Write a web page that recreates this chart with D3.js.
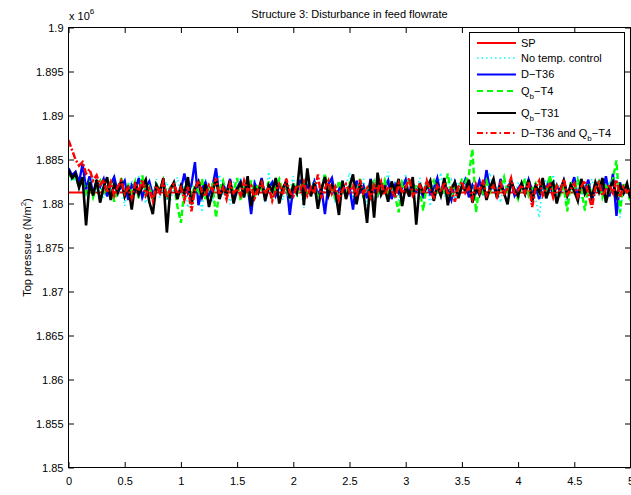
<!DOCTYPE html>
<html>
<head>
<meta charset="utf-8">
<script src="https://cdn.jsdelivr.net/npm/d3@7"></script>
<style>
  html, body { margin: 0; padding: 0; background: #fff; }
  svg { display: block; font-family: "Liberation Sans", Arial, Helvetica, sans-serif; }
</style>
</head>
<body>
<div id="chart"></div>
<script>
// ---------------- DATA (values in units of 10^6 N/m^2) ----------------
const tStart = 0, tEnd = 5;
const xTicks = [0, 0.5, 1, 1.5, 2, 2.5, 3, 3.5, 4, 4.5, 5];
const yTicks = [1.85, 1.855, 1.86, 1.865, 1.87, 1.875, 1.88, 1.885, 1.89, 1.895, 1.9];
const yTickLabels = ["1.85", "1.855", "1.86", "1.865", "1.87", "1.875", "1.88", "1.885", "1.89", "1.895", "1.9"];

const spTime = [0, 5];
const spValues = [1.88125, 1.88125];

const noTempControl = [
  1.8832, 1.8825, 1.8829, 1.8817, 1.8826, 1.8810, 1.8822, 1.8830, 1.8813, 1.8820,
  1.8806, 1.8827, 1.8815, 1.8832, 1.8808, 1.8822, 1.8797, 1.8818, 1.8826, 1.8810,
  1.8831, 1.8815, 1.8800, 1.8823, 1.8811, 1.8828, 1.8806, 1.8819, 1.8825, 1.8803,
  1.8817, 1.8830, 1.8810, 1.8821, 1.8795, 1.8826, 1.8813, 1.8819, 1.8790, 1.8828,
  1.8815, 1.8802, 1.8822, 1.8833, 1.8809, 1.8818, 1.8799, 1.8825, 1.8812, 1.8830,
  1.8806, 1.8820, 1.8794, 1.8827, 1.8814, 1.8823, 1.8801, 1.8836, 1.8811, 1.8818,
  1.8826, 1.8804, 1.8821, 1.8813, 1.8831, 1.8807, 1.8819, 1.8795, 1.8824, 1.8816,
  1.8829, 1.8808, 1.8822, 1.8834, 1.8810, 1.8817, 1.8800, 1.8826, 1.8813, 1.8821,
  1.8835, 1.8806, 1.8819, 1.8812, 1.8828, 1.8798, 1.8824, 1.8815, 1.8831, 1.8809,
  1.8820, 1.8836, 1.8811, 1.8825, 1.8803, 1.8818, 1.8833, 1.8807, 1.8821, 1.8814,
  1.8829, 1.8810, 1.8823, 1.8797, 1.8826, 1.8812, 1.8835, 1.8808, 1.8819, 1.8827,
  1.8802, 1.8824, 1.8815, 1.8831, 1.8806, 1.8820, 1.8812, 1.8828, 1.8809, 1.8822,
  1.8835, 1.8813, 1.8818, 1.8801, 1.8826, 1.8811, 1.8830, 1.8807, 1.8823, 1.8816,
  1.8829, 1.8810, 1.8821, 1.8805, 1.8784, 1.8819, 1.8827, 1.8812, 1.8833, 1.8808,
  1.8822, 1.8816, 1.8799, 1.8825, 1.8811, 1.8831, 1.8806, 1.8820, 1.8814, 1.8828,
  1.8809, 1.8823, 1.8817, 1.8803, 1.8826, 1.8812, 1.8830, 1.8784, 1.8821, 1.8813,
  1.8818
];

const dT36 = [
  1.8840, 1.8832, 1.8836, 1.8824, 1.8845, 1.8816, 1.8831, 1.8811, 1.8825, 1.8819,
  1.8828, 1.8808, 1.8822, 1.8830, 1.8813, 1.8819, 1.8826, 1.8804, 1.8821, 1.8815,
  1.8829, 1.8807, 1.8818, 1.8825, 1.8810, 1.8820, 1.8813, 1.8827, 1.8805, 1.8818,
  1.8823, 1.8809, 1.8816, 1.8834, 1.8812, 1.8821, 1.8847, 1.8798, 1.8817, 1.8824,
  1.8810, 1.8819, 1.8840, 1.8806, 1.8822, 1.8813, 1.8828, 1.8803, 1.8818, 1.8825,
  1.8811, 1.8820, 1.8788, 1.8823, 1.8814, 1.8829, 1.8806, 1.8817, 1.8824, 1.8809,
  1.8821, 1.8815, 1.8826, 1.8787, 1.8819, 1.8812, 1.8827, 1.8808, 1.8820, 1.8814,
  1.8825, 1.8810, 1.8818, 1.8788, 1.8822, 1.8829, 1.8807, 1.8816, 1.8823, 1.8811,
  1.8819, 1.8793, 1.8826, 1.8813, 1.8820, 1.8806, 1.8828, 1.8815, 1.8809, 1.8822,
  1.8817, 1.8826, 1.8805, 1.8821, 1.8812, 1.8818, 1.8827, 1.8808, 1.8823, 1.8814,
  1.8820, 1.8806, 1.8825, 1.8811, 1.8817, 1.8829, 1.8809, 1.8822, 1.8815, 1.8804,
  1.8824, 1.8812, 1.8819, 1.8827, 1.8807, 1.8821, 1.8813, 1.8826, 1.8810, 1.8838,
  1.8815, 1.8822, 1.8806, 1.8828, 1.8812, 1.8819, 1.8825, 1.8809, 1.8817, 1.8823,
  1.8811, 1.8827, 1.8814, 1.8820, 1.8805, 1.8824, 1.8816, 1.8829, 1.8808, 1.8821,
  1.8813, 1.8826, 1.8810, 1.8818, 1.8830, 1.8806, 1.8822, 1.8815, 1.8827, 1.8803,
  1.8819, 1.8825, 1.8812, 1.8831, 1.8808, 1.8834, 1.8786, 1.8824, 1.8811, 1.8817,
  1.8806
];

const qbT4 = [
  1.8836, 1.8827, 1.8831, 1.8819, 1.8828, 1.8812, 1.8823, 1.8807, 1.8820, 1.8826,
  1.8810, 1.8818, 1.8824, 1.8802, 1.8816, 1.8829, 1.8809, 1.8821, 1.8813, 1.8825,
  1.8806, 1.8832, 1.8811, 1.8819, 1.8805, 1.8822, 1.8815, 1.8827, 1.8808, 1.8818,
  1.8823, 1.8797, 1.8778, 1.8816, 1.8825, 1.8809, 1.8820, 1.8813, 1.8828, 1.8805,
  1.8818, 1.8822, 1.8784, 1.8817, 1.8826, 1.8810, 1.8821, 1.8814, 1.8829, 1.8803,
  1.8819, 1.8812, 1.8826, 1.8808, 1.8822, 1.8816, 1.8811, 1.8825, 1.8807, 1.8820,
  1.8828, 1.8813, 1.8818, 1.8805, 1.8824, 1.8811, 1.8819, 1.8827, 1.8809, 1.8816,
  1.8822, 1.8806, 1.8814, 1.8834, 1.8812, 1.8821, 1.8804, 1.8826, 1.8815, 1.8809,
  1.8823, 1.8817, 1.8811, 1.8828, 1.8806, 1.8820, 1.8814, 1.8825, 1.8810, 1.8818,
  1.8827, 1.8812, 1.8819, 1.8808, 1.8790, 1.8824, 1.8816, 1.8829, 1.8811, 1.8821,
  1.8815, 1.8792, 1.8823, 1.8818, 1.8826, 1.8810, 1.8819, 1.8813, 1.8834, 1.8808,
  1.8822, 1.8815, 1.8827, 1.8824, 1.8833, 1.8862, 1.8790, 1.8819, 1.8812, 1.8826,
  1.8813, 1.8821, 1.8807, 1.8818, 1.8830, 1.8811, 1.8824, 1.8816, 1.8805, 1.8820,
  1.8828, 1.8809, 1.8817, 1.8823, 1.8812, 1.8826, 1.8808, 1.8832, 1.8815, 1.8821,
  1.8810, 1.8819, 1.8791, 1.8824, 1.8813, 1.8827, 1.8816, 1.8792, 1.8822, 1.8811,
  1.8818, 1.8825, 1.8807, 1.8820, 1.8814, 1.8828, 1.8849, 1.8790, 1.8822, 1.8812,
  1.8803
];

const qbT31 = [
  1.8838, 1.8829, 1.8834, 1.8818, 1.8830, 1.8775, 1.8824, 1.8809, 1.8827, 1.8801,
  1.8819, 1.8830, 1.8804, 1.8822, 1.8812, 1.8826, 1.8808, 1.8820, 1.8793, 1.8824,
  1.8810, 1.8819, 1.8827, 1.8802, 1.8788, 1.8821, 1.8813, 1.8829, 1.8767, 1.8816,
  1.8824, 1.8805, 1.8820, 1.8811, 1.8830, 1.8799, 1.8817, 1.8825, 1.8808, 1.8822,
  1.8796, 1.8813, 1.8828, 1.8805, 1.8819, 1.8810, 1.8826, 1.8800, 1.8816, 1.8823,
  1.8807, 1.8831, 1.8797, 1.8818, 1.8812, 1.8827, 1.8803, 1.8821, 1.8814, 1.8829,
  1.8800, 1.8817, 1.8825, 1.8806, 1.8820, 1.8812, 1.8852, 1.8798, 1.8840, 1.8808,
  1.8823, 1.8794, 1.8816, 1.8830, 1.8809, 1.8821, 1.8813, 1.8787, 1.8826, 1.8805,
  1.8819, 1.8833, 1.8799, 1.8822, 1.8811, 1.8778, 1.8827, 1.8784, 1.8835, 1.8810,
  1.8818, 1.8802, 1.8825, 1.8813, 1.8828, 1.8797, 1.8820, 1.8808, 1.8830, 1.8776,
  1.8823, 1.8812, 1.8818, 1.8826, 1.8803, 1.8821, 1.8809, 1.8829, 1.8798, 1.8817,
  1.8824, 1.8806, 1.8820, 1.8814, 1.8827, 1.8801, 1.8819, 1.8810, 1.8825, 1.8804,
  1.8818, 1.8828, 1.8807, 1.8822, 1.8812, 1.8799, 1.8826, 1.8815, 1.8808, 1.8823,
  1.8811, 1.8827, 1.8802, 1.8820, 1.8813, 1.8829, 1.8806, 1.8818, 1.8824, 1.8800,
  1.8816, 1.8826, 1.8809, 1.8821, 1.8814, 1.8803, 1.8828, 1.8811, 1.8819, 1.8807,
  1.8824, 1.8813, 1.8829, 1.8801, 1.8818, 1.8825, 1.8808, 1.8820, 1.8812, 1.8823,
  1.8806
];

const dT36andQbT4 = [
  1.8872, 1.8861, 1.8850, 1.8843, 1.8847, 1.8834, 1.8839, 1.8826, 1.8832, 1.8821,
  1.8827, 1.8812, 1.8824, 1.8809, 1.8819, 1.8826, 1.8811, 1.8818, 1.8806, 1.8822,
  1.8814, 1.8827, 1.8809, 1.8817, 1.8803, 1.8820, 1.8812, 1.8825, 1.8807, 1.8816,
  1.8822, 1.8811, 1.8818, 1.8804, 1.8819, 1.8791, 1.8816, 1.8826, 1.8813, 1.8808,
  1.8821, 1.8815, 1.8829, 1.8810, 1.8818, 1.8805, 1.8823, 1.8812, 1.8817, 1.8809,
  1.8826, 1.8814, 1.8820, 1.8806, 1.8816, 1.8824, 1.8811, 1.8819, 1.8803, 1.8815,
  1.8822, 1.8810, 1.8828, 1.8813, 1.8808, 1.8821, 1.8816, 1.8825, 1.8809, 1.8818,
  1.8812, 1.8833, 1.8806, 1.8817, 1.8826, 1.8811, 1.8819, 1.8804, 1.8815, 1.8822,
  1.8813, 1.8820, 1.8808, 1.8827, 1.8812, 1.8818, 1.8807, 1.8821, 1.8814, 1.8825,
  1.8810, 1.8819, 1.8816, 1.8806, 1.8823, 1.8812, 1.8818, 1.8829, 1.8809, 1.8815,
  1.8821, 1.8811, 1.8826, 1.8814, 1.8807, 1.8820, 1.8813, 1.8824, 1.8810, 1.8817,
  1.8802, 1.8819, 1.8825, 1.8812, 1.8818, 1.8805, 1.8822, 1.8813, 1.8827, 1.8809,
  1.8816, 1.8820, 1.8808, 1.8823, 1.8811, 1.8817, 1.8829, 1.8810, 1.8815, 1.8821,
  1.8812, 1.8824, 1.8796, 1.8818, 1.8826, 1.8809, 1.8817, 1.8822, 1.8807, 1.8820,
  1.8813, 1.8828, 1.8810, 1.8816, 1.8823, 1.8808, 1.8819, 1.8826, 1.8811, 1.8795,
  1.8818, 1.8824, 1.8809, 1.8816, 1.8821, 1.8812, 1.8827, 1.8807, 1.8819, 1.8813,
  1.8817
];

const seriesNames = ["SP", "No temp. control", "D-T36", "Qb-T4", "Qb-T31", "D-T36 and Qb-T4"];

// ---------------- DRAWING ----------------
const W = 631, H = 495;
const L = 68.5, R = 630.5, T = 27.5, B = 467.5;

const nPts = noTempControl.length;
const time = d3.range(nPts).map(i => tStart + i * (tEnd - tStart) / (nPts - 1));

const x = d3.scaleLinear().domain([0, 5]).range([L, R]);
const y = d3.scaleLinear().domain([1.85, 1.9]).range([B, T]);

const svg = d3.select("#chart").append("svg").attr("width", W).attr("height", H);

svg.append("defs").append("clipPath").attr("id", "clip")
  .append("rect").attr("x", L).attr("y", T).attr("width", R - L).attr("height", B - T);

const styles = [
  { color: "#ff0000", width: 2, dash: null },
  { color: "#00ffff", width: 1.6, dash: "1.5,3" },
  { color: "#0000ff", width: 2.4, dash: null },
  { color: "#00ff00", width: 2.4, dash: "6,3" },
  { color: "#000000", width: 2.6, dash: null },
  { color: "#ff0000", width: 2.5, dash: "7,2,2,2" }
];

const dataSets = [
  spTime.map((t, i) => [t, spValues[i]]),
  time.map((t, i) => [t, noTempControl[i]]),
  time.map((t, i) => [t, dT36[i]]),
  time.map((t, i) => [t, qbT4[i]]),
  time.map((t, i) => [t, qbT31[i]]),
  time.map((t, i) => [t, dT36andQbT4[i]])
];

const line = d3.line().x(d => x(d[0])).y(d => y(d[1]));
const plot = svg.append("g").attr("clip-path", "url(#clip)");
dataSets.forEach((ds, k) => {
  plot.append("path").datum(ds)
    .attr("fill", "none")
    .attr("stroke", styles[k].color)
    .attr("stroke-width", styles[k].width)
    .attr("stroke-linejoin", "miter")
    .attr("stroke-dasharray", styles[k].dash)
    .attr("d", line);
});

// axes
const fs = 11;
const tickLen = 5.5;
const xb = svg.append("g").attr("transform", `translate(0,${B})`)
  .call(d3.axisBottom(x).tickValues(xTicks).tickFormat(d3.format("")).tickSizeInner(-tickLen).tickSizeOuter(0).tickPadding(10));
const xt = svg.append("g").attr("transform", `translate(0,${T})`)
  .call(d3.axisTop(x).tickValues(xTicks).tickFormat("").tickSizeInner(-tickLen).tickSizeOuter(0));
const yl = svg.append("g").attr("transform", `translate(${L},0)`)
  .call(d3.axisLeft(y).tickValues(yTicks).tickFormat((d, i) => yTickLabels[i]).tickSizeInner(-tickLen).tickSizeOuter(0).tickPadding(5));
const yr = svg.append("g").attr("transform", `translate(${R},0)`)
  .call(d3.axisRight(y).tickValues(yTicks).tickFormat("").tickSizeInner(-tickLen).tickSizeOuter(0));
[xb, xt, yl, yr].forEach(g => {
  g.select(".domain").remove();
  g.selectAll("line").attr("stroke", "#000").attr("stroke-width", 1);
  g.selectAll("text").attr("font-size", fs).attr("fill", "#000").attr("font-family", "Liberation Sans, Arial, sans-serif");
});

svg.append("rect").attr("x", L).attr("y", T).attr("width", R - L).attr("height", B - T)
  .attr("fill", "none").attr("stroke", "#000").attr("stroke-width", 1);

// exponent
const ex = svg.append("text").attr("x", 69).attr("y", 20).attr("font-size", fs);
ex.append("tspan").text("x 10");
ex.append("tspan").attr("font-size", 8).attr("dy", -6).text("6");

// title
svg.append("text").attr("x", (L + R) / 2).attr("y", 18).attr("text-anchor", "middle")
  .attr("font-size", fs).text("Structure 3: Disturbance in feed flowrate");

// y label
const ylab = svg.append("text").attr("transform", `translate(31,${(T + B) / 2}) rotate(-90)`)
  .attr("text-anchor", "middle").attr("font-size", fs);
ylab.append("tspan").text("Top pressure (N/m");
ylab.append("tspan").attr("font-size", 8).attr("dy", -5).text("2");
ylab.append("tspan").attr("dy", 5).text(")");

// legend
const lg = svg.append("g");
lg.append("rect").attr("x", 469.5).attr("y", 32.5).attr("width", 155).attr("height", 112)
  .attr("fill", "#fff").attr("stroke", "#000").attr("stroke-width", 1);
const rowY = [43, 58, 74.5, 91, 113, 133];
const legendDash = [null, "1.5,3", null, "6,4", null, "6,3,1.5,3"];
const labels = [
  [["SP", null]],
  [["No temp. control", null]],
  [["D\u2212T36", null]],
  [["Q", null], ["b", "sub"], ["\u2212T4", null]],
  [["Q", null], ["b", "sub"], ["\u2212T31", null]],
  [["D\u2212T36 and Q", null], ["b", "sub"], ["\u2212T4", null]]
];
rowY.forEach((ry, k) => {
  lg.append("line").attr("x1", 477).attr("x2", 516).attr("y1", ry).attr("y2", ry)
    .attr("stroke", styles[k].color).attr("stroke-width", k === 1 ? 1.5 : 2)
    .attr("stroke-dasharray", legendDash[k]);
  const t = lg.append("text").attr("x", 521).attr("y", ry).attr("dy", "0.35em").attr("font-size", fs);
  let sub = false;
  labels[k].forEach(([s, kind]) => {
    const ts = t.append("tspan").text(s);
    if (kind === "sub") { ts.attr("font-size", 8).attr("dy", 4); sub = true; }
    else if (sub) { ts.attr("dy", -4); sub = false; }
  });
});
</script>
</body>
</html>
